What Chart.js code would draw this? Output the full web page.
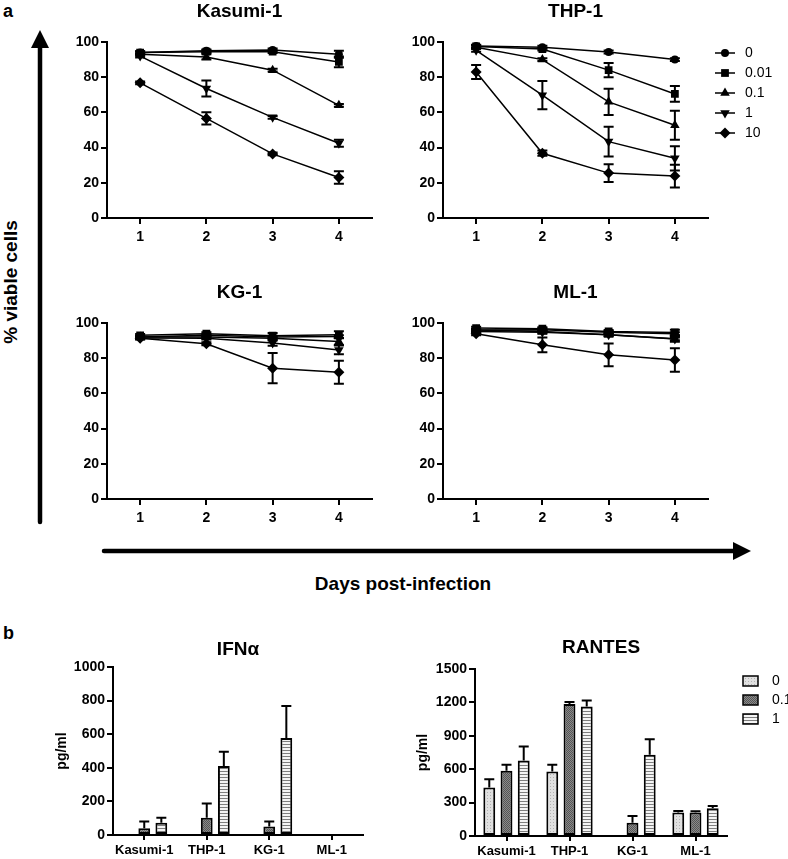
<!DOCTYPE html>
<html>
<head>
<meta charset="utf-8">
<script src="https://cdn.jsdelivr.net/npm/chart.js@4.4.1/dist/chart.umd.min.js"></script>
<style>
  body { margin:0; background:#fff; width:788px; height:859px; position:relative; overflow:hidden;
         font-family:"Liberation Sans", Arial, sans-serif; }
  canvas, .lbl, svg { position:absolute; }
  .lbl { font-weight:bold; color:#000; white-space:nowrap; line-height:1; }
</style>
</head>
<body>
<div class="lbl" style="left:3px;top:2px;font-size:18px">a</div>
<div class="lbl" style="left:3px;top:624px;font-size:18px">b</div>
<div class="lbl" style="left:10px;top:282px;font-size:19px;transform:translate(-50%,-50%) rotate(-90deg)">% viable cells</div>
<div class="lbl" style="left:403px;top:583px;font-size:19px;transform:translate(-50%,-50%)">Days post-infection</div>
<svg width="788" height="859" style="left:0;top:0">
  <line x1="40" y1="46" x2="40" y2="522" stroke="#000" stroke-width="4.5" stroke-linecap="round"/>
  <polygon points="31,48 49,48 40,30" fill="#000"/>
  <line x1="104" y1="551" x2="734" y2="551" stroke="#000" stroke-width="4.5" stroke-linecap="round"/>
  <polygon points="733,542 733,560 751,551" fill="#000"/>
</svg>
<canvas id="kasumi" width="318" height="248" style="left:60px;top:0"></canvas>
<canvas id="thp" width="392" height="248" style="left:396px;top:0"></canvas>
<canvas id="kg" width="318" height="248" style="left:60px;top:281px"></canvas>
<canvas id="ml" width="392" height="248" style="left:396px;top:281px"></canvas>
<canvas id="ifn" width="328" height="229" style="left:40px;top:630px"></canvas>
<canvas id="rantes" width="388" height="229" style="left:400px;top:630px"></canvas>
<script>
// ---- panel a: % viable cells, days 1-4, one row per dose
const days = ['1', '2', '3', '4'];
const doses = ['0', '0.01', '0.1', '1', '10'];

const kasumiVals = [[94, 95, 95.5, 93], [94, 94.5, 94.5, 88.7], [93, 91.5, 84, 64], [92, 73.6, 57.2, 42.5], [76.8, 56.6, 36.4, 23]];
const kasumiErr  = [[0.8, 0.8, 0.8, 2], [0.8, 0.8, 0.8, 3], [0.8, 1.5, 0.8, 0.8], [0.8, 4.5, 0.8, 2], [0.8, 3.5, 0.8, 3.5]];

const thpVals = [[97.7, 97, 94.3, 90], [97.5, 96, 84, 70.5], [97, 90, 66, 52.7], [95.3, 69.8, 43.4, 33.9], [83, 36.8, 25.5, 23.8]];
const thpErr  = [[0.8, 0.8, 0.8, 0.8], [0.8, 0.8, 4, 4.5], [0.8, 0.8, 7.5, 8.3], [0.8, 8, 8.5, 6.9], [4, 1.5, 5, 6.5]];

const kgVals = [[92, 93, 92, 92.3], [93, 93.9, 92.8, 93.3], [92, 92, 91.4, 89.5], [91.5, 91.4, 88.6, 84.7], [91.4, 88.2, 74.3, 72]];
const kgErr  = [[0.8, 0.8, 0.8, 0.8], [0.8, 0.8, 1.5, 2], [0.8, 0.8, 0.8, 2], [0.8, 0.8, 1.5, 2.5], [0.8, 0.8, 8.6, 6.5]];

const mlVals = [[96, 96.2, 94.7, 93.9], [97.1, 96.8, 95.2, 94.6], [96, 95.2, 93.3, 91], [95.2, 94.7, 93.3, 90.9], [93.9, 87.6, 81.9, 79]];
const mlErr  = [[0.8, 0.8, 0.8, 0.8], [0.8, 0.8, 0.8, 1.5], [0.8, 0.8, 0.8, 0.8], [0.8, 0.8, 0.8, 1.5], [0.8, 4.2, 6.5, 6.7]];

const viableTicks = [0, 20, 40, 60, 80, 100];

// ---- panel b: cytokines (pg/ml) per cell line, doses 0 / 0.1 / 1
const cellLines = ['Kasumi-1', 'THP-1', 'KG-1', 'ML-1'];
const barDoses = ['0', '0.1', '1'];

const ifnVals = [[0, 0, 0, 0], [40, 103, 50, 0], [73, 410, 578, 0]];
const ifnErr  = [[0, 0, 0, 0], [40, 85, 30, 0], [30, 85, 190, 0]];

const rantesVals = [[435, 579, 0, 210], [585, 1185, 120, 210], [678, 1164, 729, 249]];
const rantesErr  = [[75, 60, 0, 15], [54, 18, 60, 12], [126, 54, 141, 21]];

Chart.defaults.font.family = "'Liberation Sans', Arial, sans-serif";
Chart.defaults.color = '#000';

const markers = [
  { pointStyle: 'circle', pointRadius: 4, pointRotation: 0 },
  { pointStyle: 'rect', pointRadius: 5.5, pointRotation: 0 },
  { pointStyle: 'triangle', pointRadius: 5.5, pointRotation: 0 },
  { pointStyle: 'triangle', pointRadius: 5.5, pointRotation: 180 },
  { pointStyle: 'rectRot', pointRadius: 5.5, pointRotation: 0 },
];

function pattern(kind) {
  const c = document.createElement('canvas');
  const x = c.getContext('2d');
  if (kind === 'stripes') {
    c.width = 2; c.height = 3;
    x.fillStyle = '#f4f4f4'; x.fillRect(0, 0, 2, 3);
    x.fillStyle = '#7e7e7e'; x.fillRect(0, 0, 2, 1);
  } else if (kind === 'light') {
    c.width = c.height = 3;
    x.fillStyle = '#e0e0e0'; x.fillRect(0, 0, 3, 3);
    x.fillStyle = '#b2b2b2'; x.fillRect(0, 0, 1, 1);
  } else {
    c.width = c.height = 2;
    x.fillStyle = '#8a8a8a'; x.fillRect(0, 0, 2, 2);
    x.fillStyle = '#555'; x.fillRect(0, 0, 1, 1); x.fillRect(1, 1, 1, 1);
  }
  return x.createPattern(c, 'repeat');
}
const barFills = [pattern('light'), pattern('dark'), pattern('stripes')];

// error bars read from ds.errors, placed through the y scale
const errorBars = {
  id: 'errorBars',
  afterDatasetsDraw(chart, args, o) {
    const ctx = chart.ctx, ys = chart.scales.y;
    chart.data.datasets.forEach((ds, di) => {
      if (!ds.errors) return;
      const meta = chart.getDatasetMeta(di);
      ctx.save();
      ctx.strokeStyle = '#000';
      ctx.lineWidth = o.width;
      meta.data.forEach((el, i) => {
        const v = ds.data[i], e = ds.errors[i];
        if (v == null || !e) return;
        const top = ys.getPixelForValue(v + e);
        const bot = o.upOnly ? el.y : ys.getPixelForValue(v - e);
        ctx.beginPath();
        ctx.moveTo(el.x, top); ctx.lineTo(el.x, bot);
        ctx.moveTo(el.x - o.cap, top); ctx.lineTo(el.x + o.cap, top);
        if (!o.upOnly) { ctx.moveTo(el.x - o.cap, bot); ctx.lineTo(el.x + o.cap, bot); }
        ctx.stroke();
      });
      ctx.restore();
    });
  }
};

// legend drawn in the right padding
const sideLegend = {
  id: 'sideLegend',
  afterDraw(chart, args, o) {
    if (!o.show) return;
    const ctx = chart.ctx, x0 = chart.chartArea.right;
    chart.data.datasets.forEach((ds, i) => {
      const y = o.top + i * o.gap;
      ctx.save();
      if (o.kind === 'line') {
        ctx.strokeStyle = '#000'; ctx.lineWidth = 1.5;
        ctx.beginPath(); ctx.moveTo(x0 + 7, y); ctx.lineTo(x0 + 27, y); ctx.stroke();
        ctx.fillStyle = '#000';
        Chart.helpers.drawPoint(ctx, { pointStyle: ds.pointStyle, radius: ds.pointRadius, rotation: ds.pointRotation, borderWidth: 0 }, x0 + 17, y);
      } else {
        ctx.fillStyle = ds.backgroundColor;
        ctx.fillRect(x0 + 16, y - 5, 15, 10);
        ctx.strokeStyle = '#000'; ctx.lineWidth = 1.5;
        ctx.strokeRect(x0 + 16, y - 5, 15, 10);
      }
      ctx.fillStyle = '#000';
      ctx.font = "14px 'Liberation Sans', Arial, sans-serif";
      ctx.textBaseline = 'middle';
      ctx.fillText(ds.label, x0 + o.tx, y);
      ctx.restore();
    });
  }
};

const axisGrid = { drawOnChartArea: false, drawTicks: true, tickLength: 6, color: '#000', lineWidth: 2, offset: false };

function lineChart(id, title, vals, errs, rightPad, withLegend) {
  new Chart(document.getElementById(id), {
    type: 'line',
    data: {
      labels: days,
      datasets: doses.map((d, k) => ({
        label: d, data: vals[k], errors: errs[k],
        borderColor: '#000', borderWidth: 1.5, tension: 0,
        pointBackgroundColor: '#000', pointBorderWidth: 0,
        ...markers[k]
      }))
    },
    options: {
      responsive: false, animation: false, events: [],
      layout: { padding: { left: 0, right: rightPad, top: 0, bottom: 0 } },
      plugins: {
        legend: { display: false }, tooltip: { enabled: false },
        title: { display: true, text: title, fullSize: false, color: '#000',
                 font: { size: 19, weight: 'bold', lineHeight: 1 }, padding: { top: 2.5, bottom: 20.5 } },
        errorBars: { width: 2, cap: 5, upOnly: false },
        sideLegend: { show: withLegend, kind: 'line', top: 53, gap: 20, tx: 37 }
      },
      scales: {
        x: { offset: true, grid: axisGrid, border: { color: '#000', width: 2 },
             ticks: { font: { size: 14, weight: 'bold' }, padding: 5 },
             afterFit: s => { s.height = 30; s.paddingLeft = 0; s.paddingRight = 0; } },
        y: { min: 0, max: 100, grid: axisGrid, border: { color: '#000', width: 2 },
             afterBuildTicks: s => { s.ticks = viableTicks.map(v => ({ value: v })); },
             ticks: { font: { size: 14, weight: 'bold' }, padding: 2, callback: v => String(v) },
             afterFit: s => { s.width = 47; s.paddingTop = 0; s.paddingBottom = 0; } }
      }
    },
    plugins: [errorBars, sideLegend]
  });
}

lineChart('kasumi', 'Kasumi-1', kasumiVals, kasumiErr, 6, false);
lineChart('thp', 'THP-1', thpVals, thpErr, 80, true);
lineChart('kg', 'KG-1', kgVals, kgErr, 6, false);
lineChart('ml', 'ML-1', mlVals, mlErr, 80, false);

function barChart(id, title, vals, errs, yMax, yStep, yWidth, rightPad, titlePad, titleOff, xHeight, withLegend) {
  new Chart(document.getElementById(id), {
    type: 'bar',
    data: {
      labels: cellLines,
      datasets: barDoses.map((d, k) => ({
        label: d, data: vals[k], errors: errs[k],
        backgroundColor: barFills[k], borderColor: '#000', borderWidth: 2, borderSkipped: false,
        categoryPercentage: 0.82, barPercentage: 0.69
      }))
    },
    options: {
      responsive: false, animation: false, events: [],
      layout: { padding: { left: 0, right: rightPad, top: 0, bottom: 0 } },
      plugins: {
        legend: { display: false }, tooltip: { enabled: false },
        title: { display: true, text: title, fullSize: false, color: '#000',
                 font: { size: 19, weight: 'bold', lineHeight: 1 }, padding: titlePad },
        errorBars: { width: 2, cap: 5, upOnly: true },
        sideLegend: { show: withLegend, kind: 'box', top: 51, gap: 19, tx: 45 }
      },
      scales: {
        x: { grid: { ...axisGrid, tickLength: 5 }, border: { color: '#000', width: 2 },
             ticks: { font: { size: 13, weight: 'bold' }, padding: 3, maxRotation: 0, autoSkip: false },
             afterFit: s => { s.height = xHeight; s.paddingLeft = 0; s.paddingRight = 0; } },
        y: { min: 0, max: yMax, grid: axisGrid, border: { color: '#000', width: 2 },
             ticks: { stepSize: yStep, font: { size: 14, weight: 'bold' }, padding: 2, callback: v => String(v) },
             title: { display: true, text: 'pg/ml', font: { size: 14, weight: 'bold', lineHeight: 1 }, padding: { top: titleOff, bottom: 0 } },
             afterFit: s => { s.width = yWidth; s.paddingTop = 0; s.paddingBottom = 0; } }
      }
    },
    plugins: [errorBars, sideLegend]
  });
}

barChart('ifn', 'IFN\u03b1', ifnVals, ifnErr, 1000, 200, 73, 5, { top: 10.5, bottom: 7.5 }, 15, 24, false);
barChart('rantes', 'RANTES', rantesVals, rantesErr, 1500, 300, 75, 61, { top: 8.5, bottom: 11.5 }, 16, 23, true);
</script>
</body>
</html>
